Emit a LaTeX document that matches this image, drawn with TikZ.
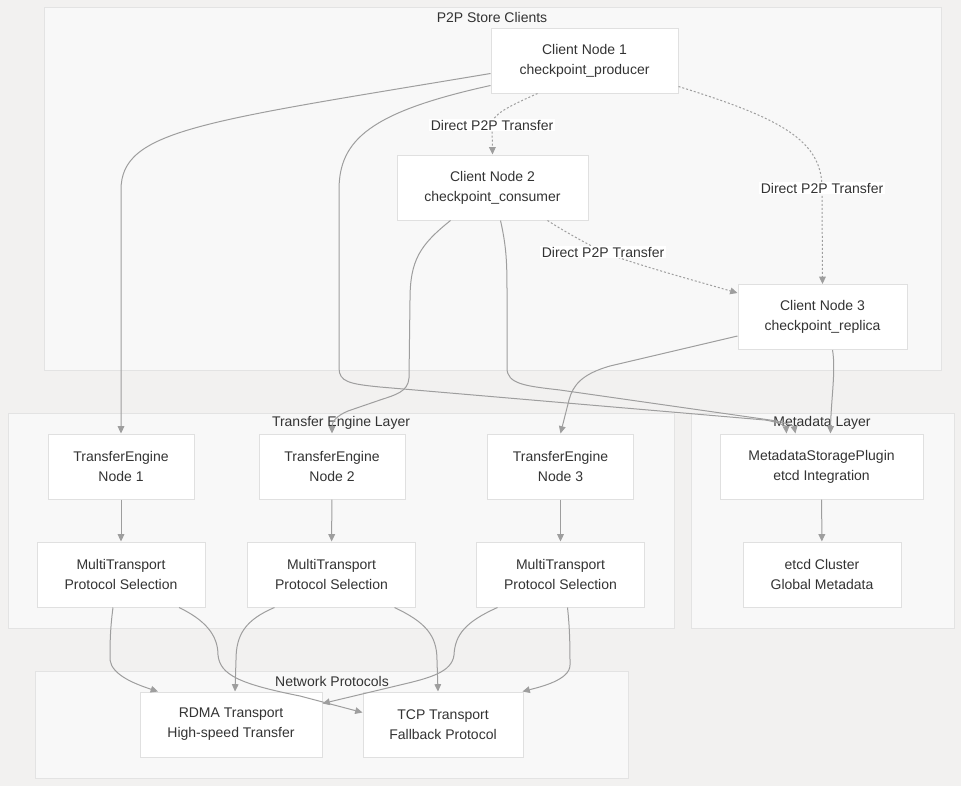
\documentclass[tikz,border=0pt]{standalone}
\usepackage{fontspec}
\setmainfont{Liberation Sans}
\usepackage{tikz}
\usepackage{xcolor}
\usetikzlibrary{arrows.meta,calc,positioning}
\definecolor{pagebg}{HTML}{F2F1F0}
\definecolor{clusterbg}{HTML}{F8F8F8}
\definecolor{clusterline}{HTML}{E3E3E3}
\definecolor{boxline}{HTML}{E0E0E0}
\definecolor{edgegrey}{HTML}{9E9E9E}
\definecolor{textgrey}{HTML}{333333}
\tikzset{%
	cluster/.style = {draw=clusterline, fill=clusterbg, line width=0.75pt},
	clustertitle/.style = {text=textgrey, font=\fontsize{10.5pt}{12pt}\selectfont, inner sep=0pt},
	box/.style     = {draw=boxline, fill=white, line width=0.75pt, minimum height=48.75pt, align=center, text=textgrey, font=\fontsize{10.5pt}{15pt}\selectfont},
	link/.style    = {draw=edgegrey, line width=0.75pt, -{Triangle[length=5.5pt,width=5pt]}},
	p2p/.style     = {link, dash pattern=on 1.5pt off 1.5pt},
	lbl/.style     = {fill=white, inner sep=1pt, text=textgrey, font=\fontsize{10.5pt}{12pt}\selectfont},
}
\begin{document}
\begin{tikzpicture}[x=0.75pt,y=-0.75pt]
	\fill[pagebg] (0,0) rectangle (961,786);
	\useasboundingbox (0,0) rectangle (961,786);
	
	% subgraphs
	\draw[cluster] (44,7) rectangle (941,370);
	\draw[cluster] (8,413) rectangle (674,628);
	\draw[cluster] (691,413) rectangle (954,628);
	\draw[cluster] (35,671) rectangle (628,778);
	\node[clustertitle] (tclients) at (492,17) {P2P Store Clients};
	\node[clustertitle] (tengine) at (341,423) {Transfer Engine Layer};
	\node[clustertitle] (tmeta) at (822,423) {Metadata Layer};
	\node[clustertitle] (tnet) at (332,681) {Network Protocols};
	
	% clients
	\node[box, minimum width=140.25pt] (c1) at (584.5,60.5) {Client Node 1\\checkpoint\_producer};
	\node[box, minimum width=143.25pt] (c2) at (492.5,187.5) {Client Node 2\\checkpoint\_consumer};
	\node[box, minimum width=126.75pt] (c3) at (822.5,317) {Client Node 3\\checkpoint\_replica};
	
	% transfer engines
	\node[box, minimum width=109.5pt] (te1) at (121,466.5) {TransferEngine\\Node 1};
	\node[box, minimum width=109.5pt] (te2) at (332,466.5) {TransferEngine\\Node 2};
	\node[box, minimum width=109.5pt] (te3) at (560.5,466.5) {TransferEngine\\Node 3};
	\node[box, minimum width=126pt] (mt1) at (121,574.5) {MultiTransport\\Protocol Selection};
	\node[box, minimum width=126pt] (mt2) at (331.5,574.5) {MultiTransport\\Protocol Selection};
	\node[box, minimum width=126pt] (mt3) at (560.5,574.5) {MultiTransport\\Protocol Selection};
	
	% metadata
	\node[box, minimum width=152.25pt] (msp) at (821.5,466.5) {MetadataStoragePlugin\\etcd Integration};
	\node[box, minimum width=118.5pt] (etcd) at (822,574.5) {etcd Cluster\\Global Metadata};
	
	% protocols
	\node[box, minimum width=136.5pt] (rdma) at (231,724.5) {RDMA Transport\\High-speed Transfer};
	\node[box, minimum width=120pt] (tcp) at (443,724.5) {TCP Transport\\Fallback Protocol};
	
	% peer to peer transfers
	\draw[p2p] ($(c1.south)+(-47,0)$) .. controls (505,108) and (492,115) .. (492,125) node[lbl] {Direct P2P Transfer} -- (c2.north);
	\draw[p2p] ($(c1.east)+(0,26)$) .. controls (780,118) and (822,140) .. (822,188) node[lbl] {Direct P2P Transfer} -- (c3.north);
	\draw[p2p] ($(c2.south)+(55,0)$) .. controls (570,235) and (590,245) .. (603,252) node[lbl] {Direct P2P Transfer} .. controls (640,266) and (700,282) .. ($(c3.west)+(0,-24)$);
	
	% clients to engines and metadata
	\draw[link] ($(c1.west)+(0,13)$) .. controls (200,122) and (121,130) .. (121,190) -- (te1.north);
	\draw[link] ($(c1.west)+(0,25)$) .. controls (370,112) and (339,140) .. (339,190) -- (339,368) .. controls (339,382) and (350,384) .. (380,387) -- (765,420) .. controls (778,422) and (786,426) .. ($(msp.north)+(-35,0)$);
	\draw[link] ($(c2.south)+(8,0)$) .. controls (506,245) and (507,260) .. (507,290) -- (507,368) .. controls (507,384) and (525,386) .. (560,390) -- (770,420) .. controls (784,422) and (794,426) .. ($(msp.north)+(-26,0)$);
	\draw[link] ($(c3.south)+(10,0)$) .. controls (836,370) and (831,400) .. ($(msp.north)+(9,0)$);
	\draw[link] ($(c2.south)+(-42,0)$) .. controls (420,245) and (410,260) .. (410,300) -- (409,378) .. controls (408,392) and (395,395) .. (380,400) -- (348,411) .. controls (336,416) and (332,422) .. (te2.north);
	\draw[link] ($(c3.west)+(0,19)$) -- (610,366) .. controls (582,374) and (573,385) .. (569,400) -- (te3.north);
	
	% engines to transports
	\draw[link] (te1) -- (mt1);
	\draw[link] (te2) -- (mt2);
	\draw[link] (te3) -- (mt3);
	\draw[link] (msp) -- (etcd);
	
	% transports to protocols
	\draw[link] ($(mt1.south)+(-8,0)$) .. controls (110,630) and (110,645) .. (110,660) .. controls (112,675) and (135,684) .. ($(rdma.north)+(-73,0)$);
	\draw[link] ($(mt1.south)+(58,0)$) .. controls (205,620) and (218,635) .. (218,655) .. controls (220,675) and (240,684) .. (300,696) -- ($(tcp.west)+(0,-12)$);
	\draw[link] ($(mt2.south)+(-57,0)$) .. controls (245,620) and (236,635) .. (236,660) -- ($(rdma.north)+(4,0)$);
	\draw[link] ($(mt2.south)+(63,0)$) .. controls (425,622) and (437,635) .. (437,660) -- ($(tcp.north)+(-5,0)$);
	\draw[link] ($(mt3.south)+(-63,0)$) .. controls (465,622) and (455,635) .. (454,655) .. controls (452,672) and (430,678) .. (400,685) -- ($(rdma.east)+(0,-21)$);
	\draw[link] ($(mt3.south)+(7,0)$) .. controls (570,630) and (570,650) .. (570,665) .. controls (570,680) and (540,687) .. ($(tcp.north east)+(-1,0)$);
\end{tikzpicture}
\end{document}
